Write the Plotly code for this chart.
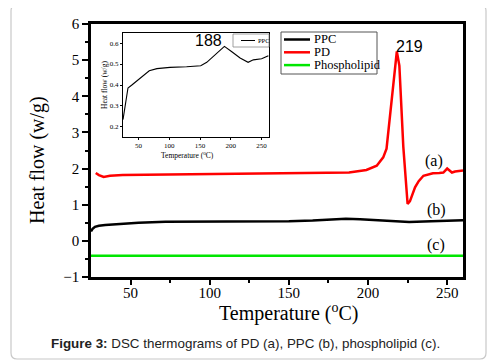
import plotly.graph_objects as go

# ---------------- data ----------------
series_names = ["PPC", "PD", "Phospholipid"]
series_colors = ["#000000", "#ff0000", "#00e600"]

ppc_x = [25, 26, 27.5, 30, 34, 40, 47, 55, 72, 100, 135, 150, 165, 175, 186, 195, 205, 215, 226, 240, 250, 260]
ppc_y = [0.26, 0.33, 0.39, 0.42, 0.44, 0.46, 0.48, 0.50, 0.53, 0.53, 0.53, 0.54, 0.56, 0.59, 0.61, 0.60, 0.57, 0.54, 0.52, 0.54, 0.55, 0.57]

pd_x = [28, 30, 33, 37, 45, 60, 84, 135, 160, 188, 199, 205.5, 209.6, 211.7, 218.2, 219.8, 222.3, 225, 226.5,
        229.7, 232, 235, 241, 245, 247.6, 250, 251.5, 253, 255, 258, 260]
pd_y = [1.88, 1.82, 1.77, 1.80, 1.82, 1.83, 1.85, 1.87, 1.88, 1.89, 1.96, 2.08, 2.31, 2.55, 5.24, 4.85, 2.6, 1.02, 1.1,
        1.48, 1.65, 1.80, 1.87, 1.88, 1.89, 2.0, 1.95, 1.89, 1.92, 1.94, 1.95]

phos_x = [25, 45, 50, 55, 100, 150, 200, 260]
phos_y = [-0.41, -0.41, -0.40, -0.41, -0.41, -0.41, -0.41, -0.41]

inset_x = [24.6, 28.4, 32.7, 39, 44.6, 52.7, 60.8, 67.3, 79.7, 101, 128, 151, 160.8, 171.6, 182.4, 189.5,
           201, 215, 228, 236.5, 250, 261]
inset_y = [0.235, 0.314, 0.386, 0.40, 0.413, 0.43, 0.449, 0.468, 0.478, 0.484, 0.487, 0.492, 0.508, 0.536,
           0.568, 0.584, 0.56, 0.529, 0.508, 0.52, 0.525, 0.54]

x_ticks = [50, 100, 150, 200, 250]
y_ticks = [-1, 0, 1, 2, 3, 4, 5, 6]
inset_x_ticks = [50, 100, 150, 200, 250]
inset_y_ticks = [0.2, 0.3, 0.4, 0.5, 0.6]

curve_labels = ["(a)", "(b)", "(c)"]
curve_label_x = [241.5, 243, 243]
curve_label_y = [2.22, 0.86, -0.11]

caption = "<b>Figure 3:</b> DSC thermograms of PD (a), PPC (b), phospholipid (c)."

# ---------------- layout helpers (screen pixel -> paper) ----------------
OFF = 8                      # default body margin of the html page
W, H = 495 - OFF, 364 - OFF
SL, SR, ST, SB = 91, 463, 24, 277   # plot area in screen pixels
L, R, T, B = SL - OFF, SR - OFF, ST - OFF, SB - OFF
def px(x):
    return (x - SL) / (SR - SL)
def py(y):
    return (SB - y) / (SB - ST)

SERIF = "Liberation Serif"
SANS = "Liberation Sans"

fig = go.Figure()
for name, color, xs, ys in zip(series_names, series_colors,
                                [ppc_x, pd_x, phos_x], [ppc_y, pd_y, phos_y]):
    fig.add_trace(go.Scatter(x=xs, y=ys, mode="lines", name=name,
                             line=dict(color=color, width=2.5), showlegend=False,
                             xaxis="x", yaxis="y"))

fig.add_trace(go.Scatter(x=inset_x, y=inset_y, mode="lines", name="PPC",
                         line=dict(color="black", width=1.1), showlegend=False,
                         xaxis="x2", yaxis="y2"))

axis_common = dict(showline=True, linecolor="black", mirror=True, showgrid=False,
                   zeroline=False, ticks="outside", tickcolor="black")

fig.update_layout(
    width=W, height=H,
    margin=dict(l=L, r=W - R, t=T, b=H - B, autoexpand=False),
    plot_bgcolor="white", paper_bgcolor="white",
    xaxis=dict(range=[25, 260], tickvals=x_ticks, linewidth=2.5, ticklen=5, tickwidth=2,
               ticklabelstandoff=-5,
               tickfont=dict(family=SERIF, size=15, color="black"),
               minor=dict(ticks="outside", ticklen=3, tickwidth=1.5, tickcolor="black",
                          tickvals=[75, 125, 175, 225]),
               **axis_common),
    yaxis=dict(range=[-1, 6], tickvals=y_ticks, linewidth=2.5, ticklen=6, tickwidth=2,
               tickfont=dict(family=SERIF, size=15, color="black"),
               minor=dict(ticks="outside", ticklen=3, tickwidth=1.5, tickcolor="black",
                          tickvals=[-0.5, 0.5, 1.5, 2.5, 3.5, 4.5, 5.5]),
               **axis_common),
    xaxis2=dict(domain=[px(123), px(269)], anchor="y2", range=[24.6, 262],
                tickvals=inset_x_ticks, linewidth=1, ticklen=2, tickwidth=1,
                tickfont=dict(family=SERIF, size=7, color="black"),
                **axis_common),
    yaxis2=dict(domain=[py(137), py(33)], anchor="x2", range=[0.152, 0.648],
                tickvals=inset_y_ticks, ticktext=["0.2", "0.3", "0.4", "0.5", "0.6"],
                linewidth=1, ticklen=2, tickwidth=1,
                tickfont=dict(family=SERIF, size=7, color="black"),
                **axis_common),
    showlegend=False,
)

ann = []
def add_text(text, x, y, size, family=SERIF, xref="paper", yref="paper", xanchor="center",
             angle=0, color="black"):
    ann.append(dict(text=text, x=x, y=y, xref=xref, yref=yref, xanchor=xanchor, yanchor="middle",
                    textangle=angle, showarrow=False, font=dict(family=family, size=size, color=color)))

# axis titles
add_text("Heat flow (w/g)", px(37), py(160), 20, angle=-90)
add_text("Temperature (<sup>o</sup>C)", px(288), py(312), 20)
# inset titles
add_text("Heat flow (w/g)", px(104), py(85), 7.5, angle=-90)
add_text("Temperature (<sup>o</sup>C)", px(187), py(155), 7.5)
# peak labels
add_text("219", 226.5, 5.37, 16, family=SANS, xref="x", yref="y")
add_text("188", 163.5, 0.613, 16, family=SANS, xref="x2", yref="y2")
# curve labels
for t, xv, yv in zip(curve_labels, curve_label_x, curve_label_y):
    add_text(t, xv, yv, 16, xref="x", yref="y")
# caption
add_text(caption, px(49), py(343), 13.4, family=SANS, xanchor="left", color="#222222")

shapes = []
# card border with rounded corners
x0, x1, y0, y1, r = 11, 486, 5, 359, 6
path = (f"M {px(x0+r)} {py(y0)} L {px(x1-r)} {py(y0)} Q {px(x1)} {py(y0)} {px(x1)} {py(y0+r)} "
        f"L {px(x1)} {py(y1-r)} Q {px(x1)} {py(y1)} {px(x1-r)} {py(y1)} "
        f"L {px(x0+r)} {py(y1)} Q {px(x0)} {py(y1)} {px(x0)} {py(y1-r)} "
        f"L {px(x0)} {py(y0+r)} Q {px(x0)} {py(y0)} {px(x0+r)} {py(y0)} Z")
shapes.append(dict(type="path", path=path, xref="paper", yref="paper",
                   line=dict(color="#c8c8c8", width=1.2), layer="below"))

# main legend (drawn manually for compact entries)
shapes.append(dict(type="rect", x0=px(281), x1=px(377), y0=py(74), y1=py(32), xref="paper", yref="paper",
                   line=dict(color="#555555", width=1), fillcolor="white"))
for i, (name, color) in enumerate(zip(series_names, series_colors)):
    yy = 39.5 + 12.8 * i
    shapes.append(dict(type="line", x0=px(284), x1=px(310), y0=py(yy), y1=py(yy), xref="paper", yref="paper",
                       line=dict(color=color, width=2.5)))
    add_text(name, px(312), py(yy), 12.5, xanchor="left")

# inset legend
shapes.append(dict(type="rect", x0=px(233), x1=px(269), y0=py(47), y1=py(34), xref="paper", yref="paper",
                   line=dict(color="#888888", width=0.8), fillcolor="white"))
shapes.append(dict(type="line", x0=px(241), x1=px(255), y0=py(40.5), y1=py(40.5), xref="paper", yref="paper",
                   line=dict(color="black", width=1)))
add_text("PPC", px(256), py(40.5), 6.5, xanchor="left")

fig.update_layout(annotations=ann, shapes=shapes)
fig.write_html("out.html")
